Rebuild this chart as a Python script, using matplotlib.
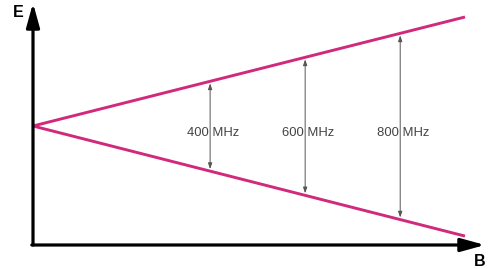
import matplotlib
matplotlib.use("Agg")
import matplotlib.pyplot as plt

plt.rcParams['font.family'] = ['Liberation Sans', 'DejaVu Sans']

# Data (arbitrary units): Zeeman-like splitting E = +/- slope * B
B_line = [0.0, 1.0]
E_upper = [0.0, 1.0]
E_lower = [0.0, -1.01]
freq_B = [0.41, 0.63, 0.85]
freq_labels = ["400 MHz", "600 MHz", "800 MHz"]

W, H = 496, 269
fig = plt.figure(figsize=(W / 100, H / 100), dpi=100)
ax = fig.add_axes([0, 0, 1, 1])
# pixel mapping: B=0 at x=33, B=1 at x=465 ; E=0 at y=126, 1 unit = 109 px
bx0, bsc = 33, 432
ey0, esc = 126, 109
ax.set_xlim(-bx0 / bsc, (W - bx0) / bsc)
ax.set_ylim(-(H - ey0) / esc, ey0 / esc)
ax.axis('off')

magenta = '#d12a7c'
ax.plot(B_line, E_upper, color=magenta, lw=2.1, solid_capstyle='butt', zorder=3)
ax.plot(B_line, E_lower, color=magenta, lw=2.1, solid_capstyle='butt', zorder=3)

# axes with arrows
y_axis_bottom = -(245 - ey0) / esc
y_axis_top = (ey0 - 3) / esc
x_axis_end = (485 - bx0) / bsc
arrow_kw = dict(arrowstyle='-|>,head_length=1.45,head_width=0.4', color='black', lw=2.3,
                shrinkA=0, shrinkB=0)
ax.annotate('', xy=(0, y_axis_top), xytext=(0, y_axis_bottom), arrowprops=arrow_kw, zorder=4)
ax.annotate('', xy=(x_axis_end, y_axis_bottom), xytext=(-1.2 / bsc, y_axis_bottom),
            arrowprops=arrow_kw, zorder=4)

ax.text((18 - bx0) / bsc, (ey0 - 12) / esc, 'E', fontsize=11.5, fontweight='bold',
        ha='center', va='center')
ax.text((480 - bx0) / bsc, -(261 - ey0) / esc, 'B', fontsize=11.5, fontweight='bold',
        ha='center', va='center')

slope_u = E_upper[1] / B_line[1]
slope_l = E_lower[1] / B_line[1]
for b, lab in zip(freq_B, freq_labels):
    eu = slope_u * b
    el = slope_l * b
    ax.annotate('', xy=(b, eu - 2 / esc), xytext=(b, el + 2 / esc),
                arrowprops=dict(arrowstyle='<|-|>,head_length=0.35,head_width=0.12',
                                color='#555555', lw=0.7, shrinkA=0, shrinkB=0), zorder=2)
    ax.annotate(lab, xy=(b, -(133 - ey0) / esc), xytext=(-23, 0), textcoords='offset pixels',
                ha='left', va='center', fontsize=9.4, color='#444444', zorder=3)

fig.savefig('out.png', dpi=100, facecolor='white')
